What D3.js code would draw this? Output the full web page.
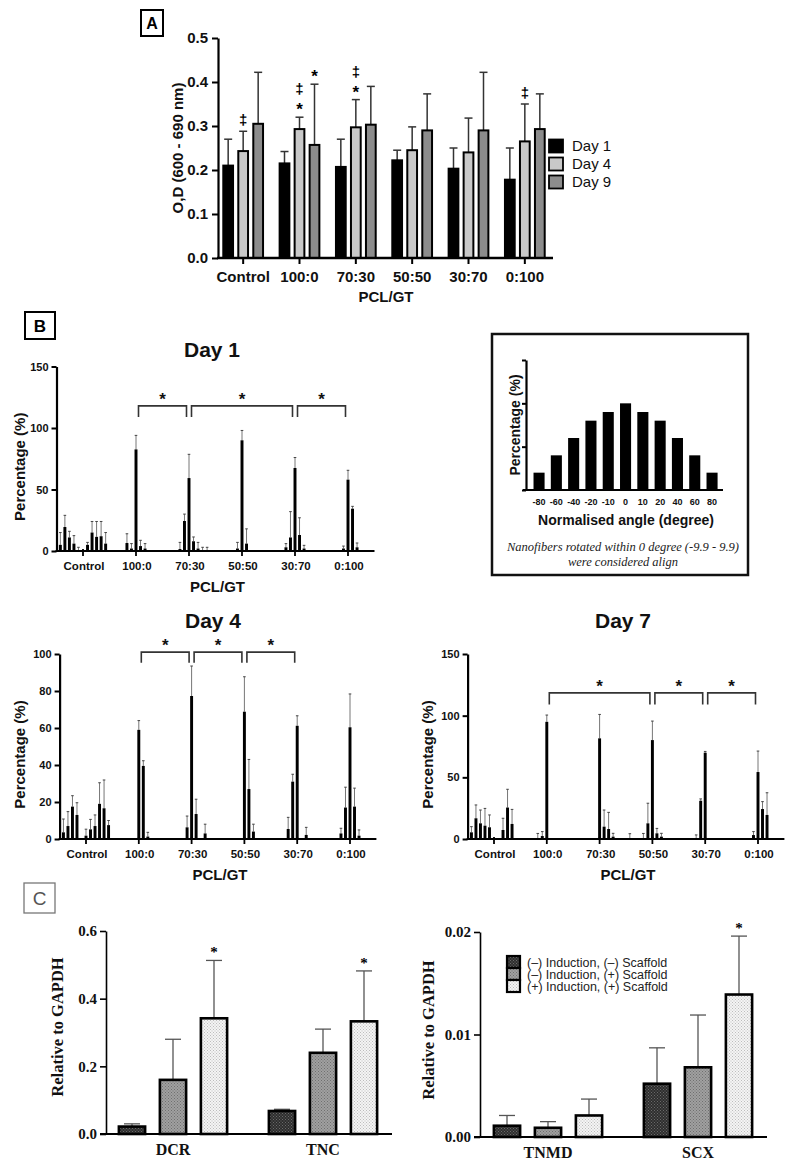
<!DOCTYPE html>
<html><head><meta charset="utf-8">
<script src="https://cdn.jsdelivr.net/npm/d3@7"></script>
<style>body{margin:0;background:#fff}</style>
</head><body>
<svg id="c" width="793" height="1166" xmlns="http://www.w3.org/2000/svg"></svg>
<script>
// ================= DATA =================
// Panel A
const groupsA = ["Control","100:0","70:30","50:50","30:70","0:100"];
const daysA = ["Day 1","Day 4","Day 9"];
const day1A = [0.210,0.215,0.207,0.222,0.203,0.178];
const day1AErr = [0.060,0.027,0.063,0.023,0.047,0.072];
const day4A = [0.243,0.293,0.297,0.245,0.240,0.265];
const day4AErr = [0.045,0.027,0.063,0.053,0.078,0.085];
const day9A = [0.305,0.257,0.303,0.290,0.290,0.293];
const day9AErr = [0.117,0.138,0.087,0.083,0.132,0.080];
const yTicksA = [0,0.1,0.2,0.3,0.4,0.5];
const marksA = [
  {group:"Control", day:"Day 4", marks:["‡"]},
  {group:"100:0", day:"Day 4", marks:["*","‡"]},
  {group:"100:0", day:"Day 9", marks:["*"]},
  {group:"70:30", day:"Day 4", marks:["*","‡"]},
  {group:"0:100", day:"Day 4", marks:["‡"]}
];

// Panel B
const groupsB = ["Control","100:0","70:30","50:50","30:70","0:100"];
const angles = ["-80","-60","-40","-20","-10","0","10","20","40","60","80"];
const day1Vals = [
  [5,19.5,11,6,0.5,0,5,15,11.5,12,6],
  [0,0,0,6.5,2,82.6,4,2,0,0,0],
  [0,0,0,1.6,24.4,59.3,7.9,2,0.5,0.5,0],
  [0,0,0,0,2,90,6,0,0,0,0],
  [0,0,0,3,11,67.5,13,2,0,0,0],
  [0,0,0,0,2,58,34.4,3,0,0,0]
];
const day1Errs = [
  [10,9.5,5,6.5,2.5,0,2,9,12.5,12,9],
  [0,0,0,7.5,4,11.4,4.7,4,0,0,0],
  [0,0,0,5.4,5.6,19.3,3.5,5,2.5,2.5,0],
  [0,0,0,0,5,8,12,0,0,0,0],
  [0,0,0,3,21,8.5,14,2.6,0,0,0],
  [0,0,0,0,2,7.6,1.9,3.5,0,0,0]
];
const day4Vals = [
  [3.6,7,17.5,13,0,1.8,5.2,7,19,16.6,7.5],
  [0,0,0,0,0,59,39.5,1.3,0,0,0],
  [0,0,0,0,6.3,77.3,13.5,0,3,0,0],
  [0,0,0,0,0,68.8,27,4,0,0,0],
  [0,0,0,5.4,31,61.2,0,2.2,0,0,0],
  [0,0,0,3,17,60.4,17.5,1.8,0,0,0]
];
const day4Errs = [
  [7.2,7.8,5.9,6.6,0,3.5,5.4,6,11.4,15.3,2.5],
  [0,0,0,0,0,5,2.8,2.3,0,0,0],
  [0,0,0,0,6.1,16.2,8,0,5,0,0],
  [0,0,0,0,0,18.9,16,4,0,0,0],
  [0,0,0,6.3,4,5.4,0,4.1,0,0,0],
  [0,0,0,2.8,11,18,10,3.1,0,0,0]
];
const day7Vals = [
  [5.4,16.8,12.7,10.8,9.5,0,0,7.3,25.5,12.2,0],
  [0,0,0,0.5,2.4,95,0,0,0,0,0],
  [0,0,0,0,0,81.6,10,8.1,1.9,0,0],
  [0.3,0,0,0.5,12.7,80.2,4.6,1.9,0,0,0],
  [0,0,0,0.3,31,70,0,0,0,0,0],
  [0,0,0,0,3.2,54.3,24.3,19.5,0,0,0]
];
const day7Errs = [
  [4.6,10.8,10.8,14,10,0,0,9.5,14.8,11.8,0],
  [0,0,0,4,3.6,5.5,0,0,0,0,0],
  [0,0,0,0,0,19.4,13.5,13.5,2.7,0,0],
  [4,0,0,4,16.3,15.4,4,2.7,0,0,0],
  [0,0,0,3,1.5,1,0,0,0,0,0],
  [0,0,0,0,2.8,17,6,18,0,0,0]
];
const bracketsDay1 = [["100:0","70:30"],["70:30","30:70"],["30:70","0:100"]];
const bracketsDay4 = [["100:0","70:30"],["70:30","50:50"],["50:50","30:70"]];
const bracketsDay7 = [["100:0","50:50"],["50:50","30:70"],["30:70","0:100"]];
const insetAngles = ["-80","-60","-40","-20","-10","0","10","20","40","60","80"];
const insetVals = [2,4,6,8,9,10,9,8,6,4,2];

// Panel C
const conditionsC = ["(–) Induction, (–) Scaffold","(–) Induction, (+) Scaffold","(+) Induction, (+) Scaffold"];
const genesL = ["DCR","TNC"];
const genesR = ["TNMD","SCX"];
const cL_nn = [0.022,0.068], cL_nnErr = [0.008,0.005];
const cL_np = [0.160,0.240], cL_npErr = [0.120,0.070];
const cL_pp = [0.342,0.333], cL_ppErr = [0.171,0.149];
const cR_nn = [0.0011,0.0052], cR_nnErr = [0.0010,0.0035];
const cR_np = [0.0009,0.0068], cR_npErr = [0.0006,0.0051];
const cR_pp = [0.0021,0.0139], cR_ppErr = [0.0016,0.0057];
const starsL = [{gene:"TNC",cond:2},{gene:"DCR",cond:2}];
const starsR = [{gene:"SCX",cond:2}];

// ================= DRAWING =================
const F = "'Liberation Sans', Arial, Helvetica, sans-serif";
const S = "'Liberation Serif', 'Times New Roman', serif";
const svg = d3.select("#c");
svg.append("rect").attr("width",793).attr("height",1166).attr("fill","#fff");

const defs = svg.append("defs");
function pat(id, bg, dot){
  const p = defs.append("pattern").attr("id",id).attr("width",3).attr("height",3).attr("patternUnits","userSpaceOnUse");
  p.append("rect").attr("width",3).attr("height",3).attr("fill",bg);
  p.append("rect").attr("width",1).attr("height",1).attr("fill",dot);
  p.append("rect").attr("x",1.5).attr("y",1.5).attr("width",1).attr("height",1).attr("fill",dot);
}
pat("pDark","#2e2e2e","#6a6a6a");
pat("pGray","#a0a0a0","#6f6f6f");
pat("pLight","#f4f4f4","#bdbdbd");

function styleAxis(g, fs, family, weight){
  g.select(".domain").attr("stroke","#000").attr("stroke-width",2.2);
  g.selectAll(".tick line").attr("stroke","#000").attr("stroke-width",2);
  g.selectAll(".tick text").attr("font-family",family).attr("font-size",fs).attr("font-weight",weight).attr("fill","#111");
}
function labelBox(x,y,w,h,t,opts){
  svg.append("rect").attr("x",x).attr("y",y).attr("width",w).attr("height",h)
    .attr("fill","#fff").attr("stroke",opts.stroke||"#000").attr("stroke-width",opts.sw||2);
  svg.append("text").attr("x",x+w/2).attr("y",y+h/2).attr("dy","0.36em").attr("text-anchor","middle")
    .attr("font-family",F).attr("font-size",opts.fs||17).attr("font-weight",opts.fw||"bold").attr("fill",opts.fill||"#000").text(t);
}

// ---------- Panel A ----------
labelBox(141,10,22,26,"A",{fs:16});
const xA = d3.scaleBand().domain(groupsA).range([215,553]);
const xAi = d3.scaleBand().domain(daysA).range([-22.5,22.5]).paddingInner(0.35).paddingOuter(0.175);
const yA = d3.scaleLinear().domain([0,0.5]).range([258,38]);
const seriesA = [
  {day:"Day 1", vals:day1A, errs:day1AErr, fill:"#000"},
  {day:"Day 4", vals:day4A, errs:day4AErr, fill:"#c8c8c8"},
  {day:"Day 9", vals:day9A, errs:day9AErr, fill:"#8c8c8c"}
];
const gA = svg.append("g");
seriesA.forEach(s=>{
  groupsA.forEach((g,i)=>{
    const cx = xA(g)+xA.bandwidth()/2 + xAi(s.day) + xAi.bandwidth()/2;
    const v = s.vals[i], e = s.errs[i];
    gA.append("line").attr("x1",cx).attr("x2",cx).attr("y1",yA(v)).attr("y2",yA(v+e)).attr("stroke","#333").attr("stroke-width",1.5);
    gA.append("line").attr("x1",cx-4).attr("x2",cx+4).attr("y1",yA(v+e)).attr("y2",yA(v+e)).attr("stroke","#333").attr("stroke-width",1.5);
    gA.append("rect").attr("x",cx-xAi.bandwidth()/2).attr("y",yA(v)).attr("width",xAi.bandwidth())
      .attr("height",yA(0)-yA(v)).attr("fill",s.fill).attr("stroke","#000").attr("stroke-width",2);
  });
});
marksA.forEach(m=>{
  const s = seriesA.find(d=>d.day===m.day);
  const i = groupsA.indexOf(m.group);
  const cx = xA(m.group)+xA.bandwidth()/2 + xAi(m.day) + xAi.bandwidth()/2;
  const top = yA(s.vals[i]+s.errs[i]);
  m.marks.forEach((t,k)=>{
    const yc = top - 11 - k*17;
    gA.append("text").attr("x",cx).attr("y", t==="*" ? yc+9 : yc+5).attr("text-anchor","middle")
      .attr("font-family",F).attr("font-weight","bold").attr("font-size", t==="*"?17:15).attr("fill","#000").text(t);
  });
});
const ayA = svg.append("g").attr("transform","translate(218,0)")
  .call(d3.axisLeft(yA).tickValues(yTicksA).tickFormat(d3.format(".1f")).tickSize(6).tickSizeOuter(0));
styleAxis(ayA,15,F,"bold"); ayA.selectAll(".tick text").attr("dx","-1");
svg.append("line").attr("x1",217).attr("x2",553).attr("y1",yA(0)).attr("y2",yA(0)).attr("stroke","#000").attr("stroke-width",2.5);
groupsA.forEach(g=>{
  const cx = xA(g)+xA.bandwidth()/2;
  svg.append("line").attr("x1",cx).attr("x2",cx).attr("y1",yA(0)).attr("y2",yA(0)+6).attr("stroke","#000").attr("stroke-width",2);
  svg.append("text").attr("x",cx).attr("y",282).attr("text-anchor","middle").attr("font-family",F)
    .attr("font-size",15).attr("font-weight","bold").attr("fill","#111").text(g);
});
svg.append("text").attr("x",386).attr("y",302).attr("text-anchor","middle").attr("font-family",F)
  .attr("font-size",15).attr("font-weight","bold").attr("fill","#111").text("PCL/GT");
svg.append("text").attr("transform","translate(183,148) rotate(-90)").attr("text-anchor","middle")
  .attr("font-family",F).attr("font-size",15).attr("font-weight","bold").attr("fill","#111").text("O,D (600 - 690 nm)");
seriesA.forEach((s,k)=>{
  const yc = 146 + k*18;
  svg.append("rect").attr("x",549).attr("y",yc-6.5).attr("width",14).attr("height",13).attr("fill",s.fill).attr("stroke","#000").attr("stroke-width",1.8);
  svg.append("text").attr("x",572).attr("y",yc+5).attr("font-family",F).attr("font-size",15).attr("fill","#111").text(s.day);
});

// ---------- Panel B ----------
labelBox(25,312,30,27,"B",{fs:17});

function hist(o){
  const g = svg.append("g");
  const x = d3.scaleBand().domain(groupsB).range([o.x0, o.x0+6*o.step]);
  const xi = d3.scaleBand().domain(angles).range([-o.step*0.47, o.step*0.47]).paddingInner(0.35).paddingOuter(0.175);
  const y = d3.scaleLinear().domain([0,o.max]).range([o.base,o.top]);
  const cxOf = gr => x(gr)+x.bandwidth()/2;
  groupsB.forEach((gr,gi)=>{
    angles.forEach((a,ai)=>{
      const v = o.vals[gi][ai], e = o.errs[gi][ai];
      const cx = cxOf(gr)+xi(a)+xi.bandwidth()/2;
      if(e>0){
        g.append("line").attr("x1",cx).attr("x2",cx).attr("y1",y(v)).attr("y2",y(v+e)).attr("stroke","#666").attr("stroke-width",0.9);
        g.append("line").attr("x1",cx-1.3).attr("x2",cx+1.3).attr("y1",y(v+e)).attr("y2",y(v+e)).attr("stroke","#444").attr("stroke-width",1);
      }
      if(v>0){
        g.append("rect").attr("x",cx-xi.bandwidth()/2).attr("y",y(v)).attr("width",xi.bandwidth())
          .attr("height",y(0)-y(v)).attr("fill","#000");
      }
    });
  });
  const ay = svg.append("g").attr("transform",`translate(${o.x0},0)`)
    .call(d3.axisLeft(y).tickValues(o.ticks).tickFormat(d3.format("d")).tickSize(5).tickSizeOuter(0));
  styleAxis(ay,11,F,"bold");
  svg.append("line").attr("x1",o.x0-1).attr("x2",o.x0+6*o.step).attr("y1",o.base).attr("y2",o.base).attr("stroke","#000").attr("stroke-width",2.2);
  groupsB.forEach(gr=>{
    const cx = cxOf(gr);
    svg.append("line").attr("x1",cx).attr("x2",cx).attr("y1",o.base-2).attr("y2",o.base+5).attr("stroke","#000").attr("stroke-width",1.8);
    svg.append("text").attr("x",cx+1).attr("y",o.base+19).attr("text-anchor","middle").attr("font-family",F)
      .attr("font-size",11.5).attr("font-weight","bold").attr("fill","#111").text(gr);
  });
  const midX = o.x0+3*o.step;
  svg.append("text").attr("x",midX+2).attr("y",o.base+41).attr("text-anchor","middle").attr("font-family",F)
    .attr("font-size",15).attr("font-weight","bold").attr("fill","#111").text("PCL/GT");
  svg.append("text").attr("x",o.titleX).attr("y",o.titleY).attr("text-anchor","middle").attr("font-family",F)
    .attr("font-size",21).attr("font-weight","bold").attr("fill","#111").text(o.title);
  svg.append("text").attr("transform",`translate(${o.ylx},${(o.base+o.top)/2+8}) rotate(-90)`).attr("text-anchor","middle")
    .attr("font-family",F).attr("font-size",15).attr("font-weight","bold").attr("fill","#111").text("Percentage (%)");
  o.brackets.forEach(([a,b])=>{
    const xa = cxOf(a)+2.5, xb = cxOf(b)-2.5;
    const yl = y(o.bLevel), yd = y(o.bDrop);
    g.append("path").attr("d",`M${xa},${yd}V${yl}H${xb}V${yd}`).attr("fill","none").attr("stroke","#333").attr("stroke-width",1.6);
    g.append("text").attr("x",(xa+xb)/2).attr("y",yl-1).attr("text-anchor","middle").attr("font-family",F)
      .attr("font-size",17).attr("font-weight","bold").attr("fill","#111").text("*");
  });
}
hist({x0:56.5, step:53, base:551, top:366.5, max:150, ticks:[0,50,100,150], vals:day1Vals, errs:day1Errs,
  title:"Day 1", titleX:212, titleY:357, ylx:25, brackets:bracketsDay1, bLevel:118, bDrop:109});
hist({x0:59.6, step:52.8, base:839, top:654, max:100, ticks:[0,20,40,60,80,100], vals:day4Vals, errs:day4Errs,
  title:"Day 4", titleX:213, titleY:628, ylx:25, brackets:bracketsDay4, bLevel:101, bDrop:95.3});
hist({x0:467.6, step:52.8, base:839, top:654, max:150, ticks:[0,50,100,150], vals:day7Vals, errs:day7Errs,
  title:"Day 7", titleX:623, titleY:628, ylx:433, brackets:bracketsDay7, bLevel:118.5, bDrop:109});

// Inset
svg.append("rect").attr("x",492).attr("y",334).attr("width",256).attr("height",241).attr("fill","none").attr("stroke","#111").attr("stroke-width",2.5);
const xIn = d3.scaleBand().domain(insetAngles).range([530.4,720.7]).paddingInner(0.36).paddingOuter(0.18);
const yIn = d3.scaleLinear().domain([0,15]).range([490,360]);
svg.append("g").selectAll("rect").data(insetVals).join("rect")
  .attr("x",(d,i)=>xIn(insetAngles[i])).attr("y",d=>yIn(d)).attr("width",xIn.bandwidth())
  .attr("height",d=>yIn(0)-yIn(d)).attr("fill","#000");
const ayIn = svg.append("g").attr("transform","translate(526,0)")
  .call(d3.axisLeft(yIn).tickValues([0,5,10,15]).tickFormat("").tickSize(4).tickSizeOuter(0));
styleAxis(ayIn,9,F,"bold");
svg.append("line").attr("x1",523).attr("x2",723).attr("y1",490).attr("y2",490).attr("stroke","#000").attr("stroke-width",2);
insetAngles.forEach(a=>{
  svg.append("text").attr("x",xIn(a)+xIn.bandwidth()/2).attr("y",505).attr("text-anchor","middle").attr("font-family",F)
    .attr("font-size",9).attr("font-weight","bold").attr("fill","#111").text(a);
});
svg.append("text").attr("x",626).attr("y",525).attr("text-anchor","middle").attr("font-family",F)
  .attr("font-size",14).attr("font-weight","bold").attr("fill","#111").text("Normalised angle (degree)");
svg.append("text").attr("transform","translate(520,425) rotate(-90)").attr("text-anchor","middle")
  .attr("font-family",F).attr("font-size",14).attr("font-weight","bold").attr("fill","#111").text("Percentage (%)");
svg.append("text").attr("x",623).attr("y",551).attr("text-anchor","middle").attr("font-family",S)
  .attr("font-size",12.5).attr("font-style","italic").attr("fill","#222").text("Nanofibers rotated within 0 degree (-9.9 - 9.9)");
svg.append("text").attr("x",623).attr("y",566).attr("text-anchor","middle").attr("font-family",S)
  .attr("font-size",12.5).attr("font-style","italic").attr("fill","#222").text("were considered align");

// ---------- Panel C ----------
labelBox(24,883,31,30,"C",{fs:19, fw:"normal", stroke:"#777", sw:1.3, fill:"#555"});
const fillsC = ["url(#pDark)","url(#pGray)","url(#pLight)"];
function chartC(o){
  const x = d3.scaleBand().domain(o.genes).range(o.xr);
  const xi = d3.scaleBand().domain([0,1,2]).range([-61.5,61.5]).paddingInner(0.36).paddingOuter(0.18);
  const y = d3.scaleLinear().domain([0,o.max]).range([o.base,o.top]);
  const g = svg.append("g");
  o.series.forEach((s,k)=>{
    o.genes.forEach((gn,i)=>{
      const cx = x(gn)+x.bandwidth()/2 + xi(k) + xi.bandwidth()/2;
      const v = s.v[i], e = s.e[i];
      g.append("line").attr("x1",cx).attr("x2",cx).attr("y1",y(v)).attr("y2",y(v+e)).attr("stroke","#555").attr("stroke-width",1.3);
      g.append("line").attr("x1",cx-8).attr("x2",cx+8).attr("y1",y(v+e)).attr("y2",y(v+e)).attr("stroke","#555").attr("stroke-width",1.3);
      g.append("rect").attr("x",cx-xi.bandwidth()/2).attr("y",y(v)).attr("width",xi.bandwidth()).attr("height",y(0)-y(v))
        .attr("fill",fillsC[k]).attr("stroke","#000").attr("stroke-width",2.6);
    });
  });
  o.stars.forEach(st=>{
    const i = o.genes.indexOf(st.gene), s = o.series[st.cond];
    const cx = x(st.gene)+x.bandwidth()/2 + xi(st.cond) + xi.bandwidth()/2;
    g.append("text").attr("x",cx).attr("y",y(s.v[i]+s.e[i])-3).attr("text-anchor","middle").attr("font-family",S)
      .attr("font-size",15).attr("font-weight","bold").attr("fill","#000").text("*");
  });
  const ay = svg.append("g").attr("transform",`translate(${o.ax},0)`)
    .call(d3.axisLeft(y).tickValues(o.ticks).tickFormat(d3.format(o.fmt)).tickSize(6).tickSizeOuter(0));
  styleAxis(ay,15,S,"bold"); ay.select(".domain").attr("stroke-width",1.6); ay.selectAll(".tick line").attr("stroke-width",1.6);
  svg.append("line").attr("x1",o.ax-6).attr("x2",o.xend).attr("y1",o.base).attr("y2",o.base).attr("stroke","#000").attr("stroke-width",2);
  o.genes.forEach(gn=>{
    svg.append("text").attr("x",x(gn)+x.bandwidth()/2).attr("y",o.base+21).attr("text-anchor","middle").attr("font-family",S)
      .attr("font-size",16).attr("font-weight","bold").attr("fill","#111").text(gn);
  });
  svg.append("text").attr("transform",`translate(${o.ylx},${o.yly}) rotate(-90)`).attr("text-anchor","middle")
    .attr("font-family",S).attr("font-size",16.5).attr("font-weight","bold").attr("fill","#111").text("Relative to GAPDH");
}
chartC({genes:genesL, xr:[98,398], max:0.6, base:1134, top:931, ticks:[0,0.2,0.4,0.6], fmt:".1f", ax:106, xend:392,
  series:[{v:cL_nn,e:cL_nnErr},{v:cL_np,e:cL_npErr},{v:cL_pp,e:cL_ppErr}], stars:starsL, ylx:63, yly:1027});
chartC({genes:genesR, xr:[473,773], max:0.02, base:1137, top:932, ticks:[0,0.01,0.02], fmt:".2f", ax:480, xend:767,
  series:[{v:cR_nn,e:cR_nnErr},{v:cR_np,e:cR_npErr},{v:cR_pp,e:cR_ppErr}], stars:starsR, ylx:434, yly:1030});
conditionsC.forEach((c,k)=>{
  const yt = 956 + k*12;
  svg.append("rect").attr("x",507).attr("y",yt).attr("width",13).attr("height",12).attr("fill",fillsC[k]).attr("stroke","#000").attr("stroke-width",2.2);
  svg.append("text").attr("x",527).attr("y",yt+10.5).attr("font-family",F).attr("font-size",12.5).attr("fill","#222").text(c);
});
</script>
</body></html>
